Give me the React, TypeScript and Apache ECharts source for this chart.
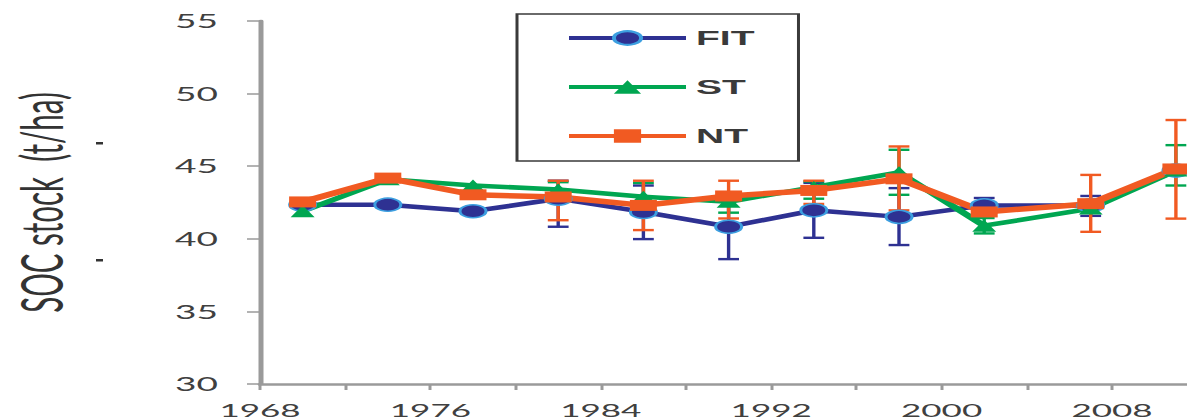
import React, { useEffect, useRef } from "react";
import * as echarts from "echarts";

// Sampling years and SOC stock (t/ha) per tillage treatment
const years = [1970, 1974, 1978, 1982, 1986, 1990, 1994, 1998, 2002, 2007, 2011];
const fitValues = [42.35, 42.35, 41.9, 42.76, 41.85, 40.83, 41.96, 41.51, 42.3, 42.3, 44.7];
const stValues = [41.9, 44.1, 43.67, 43.4, 42.9, 42.55, 43.56, 44.58, 40.9, 42.08, 44.7];
const ntValues = [42.54, 44.18, 43.03, 42.88, 42.3, 42.95, 43.33, 44.13, 41.85, 42.42, 44.81];

// Error bar extents (low / high); null where no bar is drawn
const fitLow = [null, null, null, 40.83, 39.98, 38.6, 40.07, 39.57, 41.8, 41.58, null];
const fitHigh = [null, null, null, 44.0, 43.67, 43.06, 43.85, 43.49, 42.81, 42.95, null];
const stLow = [null, null, null, 43.0, 42.0, 41.8, 42.76, 43.03, 40.37, null, 43.67];
const stHigh = [null, null, null, 43.9, 43.85, 43.2, 43.95, 46.13, 41.43, null, 46.45];
const ntLow = [null, null, null, 41.28, 40.6, 41.4, 42.4, 41.96, null, 40.48, 41.39];
const ntHigh = [null, null, null, 44.0, 44.0, 44.0, 44.0, 46.36, null, 44.4, 48.18];

const seriesNames = ["FIT", "ST", "NT"];
const yTitle = "SOC stock  (t/ha)";

const BLUE = "#2E3192";
const BLUE_RING = "#3C9FE0";
const GREEN = "#00A651";
const ORANGE = "#F15A22";

function pairs(values: number[]) {
  return years.map((y, i) => [y, values[i]]);
}

function bars(low: (number | null)[], high: (number | null)[]) {
  const out: number[][] = [];
  years.forEach((y, i) => {
    const lo = low[i];
    const hi = high[i];
    if (lo != null && hi != null) out.push([y, lo, hi]);
  });
  return out;
}

function errorSeries(name: string, color: string, data: number[][]) {
  return {
    type: "custom",
    name: name + " error",
    data,
    encode: { x: 0, y: [1, 2] },
    silent: true,
    renderItem: (_params: any, api: any) => {
      const x = api.value(0);
      const top = api.coord([x, api.value(2)]);
      const bot = api.coord([x, api.value(1)]);
      const cap = 5.2;
      const stem = { stroke: color, lineWidth: 1.7 };
      const capStyle = { stroke: color, lineWidth: 2.4 };
      return {
        type: "group",
        children: [
          { type: "line", shape: { x1: top[0], y1: top[1], x2: bot[0], y2: bot[1] }, style: stem },
          { type: "line", shape: { x1: top[0] - cap, y1: top[1], x2: top[0] + cap, y2: top[1] }, style: capStyle },
          { type: "line", shape: { x1: bot[0] - cap, y1: bot[1], x2: bot[0] + cap, y2: bot[1] }, style: capStyle },
        ],
      };
    },
  };
}

export default function App() {
  const ref = useRef<HTMLDivElement>(null);

  useEffect(() => {
    if (!ref.current) return;
    const chart = echarts.init(ref.current, undefined, { renderer: "svg" });
    const axisColor = "#9a9a9a";
    const labelColor = "#404040";

    chart.setOption({
      animation: false,
      backgroundColor: "#ffffff",
      grid: { left: 130, right: 1.4, top: 21, bottom: 32.3, containLabel: false },
      xAxis: {
        type: "value",
        min: 1968,
        max: 2012,
        interval: 8,
        axisLine: { show: true, lineStyle: { color: axisColor, width: 2.5 } },
        axisTick: { show: true, length: 6, lineStyle: { color: axisColor, width: 1.5 } },
        minorTick: { show: true, splitNumber: 2, length: 6, lineStyle: { color: axisColor, width: 1.5 } },
        splitLine: { show: false },
        axisLabel: {
          showMaxLabel: false,
          margin: 17,
          fontFamily: "Lato",
          fontSize: 17.5,
          color: labelColor,
          formatter: (v: number) => String(v),
        },
      },
      yAxis: {
        type: "value",
        min: 30,
        max: 55,
        interval: 5,
        axisLine: { show: true, lineStyle: { color: axisColor, width: 2.5 } },
        axisTick: { show: true, length: 6.5, lineStyle: { color: axisColor, width: 1.5 } },
        splitLine: { show: false },
        axisLabel: {
          margin: 21,
          fontFamily: "Lato",
          fontSize: 18.5,
          color: labelColor,
        },
      },
      legend: {
        data: seriesNames,
        orient: "vertical",
        left: 258.5,
        top: 14,
        padding: [14, 22, 15, 24],
        itemGap: 29,
        itemWidth: 58.5,
        itemHeight: 17,
        borderColor: "#3a3a3a",
        borderWidth: 1.5,
        backgroundColor: "#ffffff",
        lineStyle: { width: 4 },
        textStyle: {
          fontFamily: "Liberation Sans",
          fontWeight: "bold",
          fontSize: 19.5,
          color: "#3a3a3a",
        },
      },
      graphic: [
        {
          type: "text",
          x: 20,
          y: 202.5,
          rotation: Math.PI / 2,
          style: {
            text: yTitle,
            fontFamily: "Lato",
            fontSize: 29.5,
            fill: "#333333",
            align: "center",
            verticalAlign: "middle",
          },
        },
        { type: "rect", shape: { x: 48, y: 142, width: 3.5, height: 2.5 }, style: { fill: "#333" } },
        { type: "rect", shape: { x: 48, y: 259, width: 3.5, height: 2.5 }, style: { fill: "#333" } },
      ],
      series: [
        errorSeries("FIT", BLUE, bars(fitLow, fitHigh)),
        {
          type: "line",
          name: "FIT",
          data: pairs(fitValues),
          symbol: "circle",
          symbolSize: 13,
          lineStyle: { color: BLUE, width: 4.5 },
          itemStyle: { color: BLUE, borderColor: BLUE_RING, borderWidth: 1.5 },
        },
        errorSeries("ST", GREEN, bars(stLow, stHigh)),
        {
          type: "line",
          name: "ST",
          data: pairs(stValues),
          symbol: "triangle",
          symbolSize: 12,
          lineStyle: { color: GREEN, width: 4.5 },
          itemStyle: { color: GREEN },
        },
        errorSeries("NT", ORANGE, bars(ntLow, ntHigh)),
        {
          type: "line",
          name: "NT",
          data: pairs(ntValues),
          symbol: "rect",
          symbolSize: [13.5, 11],
          lineStyle: { color: ORANGE, width: 5.5 },
          itemStyle: { color: ORANGE },
        },
      ],
    });

    return () => chart.dispose();
  }, []);

  return (
    <div
      style={{
        position: "fixed",
        left: 0,
        top: 0,
        width: 1187,
        height: 419,
        overflow: "hidden",
        background: "#ffffff",
      }}
    >
      <div
        ref={ref}
        style={{ width: 600, height: 419, transform: "scaleX(2)", transformOrigin: "0 0" }}
      />
    </div>
  );
}
